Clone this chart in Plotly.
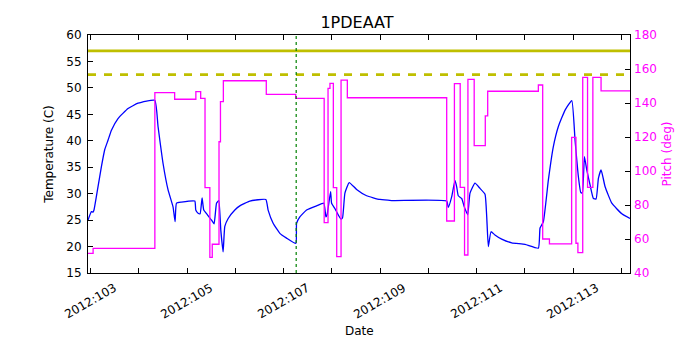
import plotly.graph_objects as go

# ---------------- data ----------------
temp_day = [102.944, 103.015, 103.048, 103.068, 103.151, 103.222, 103.29, 103.359, 103.43, 103.566,
            103.774, 103.981, 104.328, 104.396, 104.50, 104.604, 104.707, 104.749, 104.778, 104.88,
            105.158, 105.178, 105.226, 105.268, 105.309, 105.344, 105.42, 105.505, 105.558, 105.608,
            105.656, 105.697, 105.745, 105.78, 105.85, 105.988, 106.091, 106.299, 106.631, 106.678,
            106.782, 106.921, 107.06, 107.253, 107.268, 107.336, 107.475, 107.683, 107.834, 107.876,
            107.90, 107.973, 107.994, 108.062, 108.131, 108.187, 108.22, 108.27, 108.359, 108.512,
            108.72, 108.996, 109.239, 110.38, 110.413, 110.483, 110.552, 110.587, 110.62, 110.69,
            110.745, 110.815, 110.863, 110.967, 111.07, 111.174, 111.21, 111.243, 111.299, 111.38,
            111.52, 111.728, 112.004, 112.28, 112.315, 112.384, 112.488, 112.591, 112.695, 112.834,
            112.973, 113.041, 113.11, 113.16, 113.193, 113.235, 113.284, 113.353, 113.421, 113.477,
            113.525, 113.581, 113.664, 113.803, 114.01, 114.18]
temp_val = [25.0, 26.6, 26.5, 26.9, 31.3, 35.1, 38.3, 40.1, 42.0, 44.2,
            46.1, 47.1, 47.65, 42.7, 35.7, 30.7, 27.5, 24.7, 28.2, 28.4,
            28.6, 26.9, 26.3, 26.2, 29.2, 26.9, 26.0, 25.0, 24.3, 28.2,
            28.7, 23.1, 19.0, 23.8, 25.3, 26.9, 27.7, 28.6, 28.9, 26.9,
            24.4, 22.5, 21.6, 20.6, 24.4, 25.6, 26.9, 27.7, 28.2, 25.6,
            26.0, 30.4, 28.2, 27.2, 26.0, 25.2, 25.4, 30.1, 32.1, 30.8,
            29.6, 28.9, 28.7, 28.6, 27.4, 29.4, 32.5, 31.3, 29.6, 29.1,
            27.5, 26.0, 30.1, 32.0, 31.0, 29.9, 25.6, 20.0, 22.8, 22.2,
            21.4, 20.7, 20.4, 19.7, 23.5, 24.7, 32.6, 38.9, 42.7, 45.8,
            47.6, 40.1, 33.2, 30.2, 30.2, 37.0, 34.5, 31.6, 29.1, 29.0,
            32.9, 34.5, 31.3, 28.2, 26.2, 25.3]

pitch_day = [102.944, 103.05, 104.33, 104.74, 105.18, 105.28, 105.37, 105.47, 105.52, 105.66,
             105.69, 105.75, 106.64, 107.25, 107.84, 107.92, 107.96, 108.03, 108.10, 108.19,
             108.32, 110.38, 110.54, 110.66, 110.75, 110.82, 110.95, 111.18, 111.23, 112.28,
             112.37, 112.51, 112.97, 113.06, 113.10, 113.20, 113.30, 113.41, 113.58, 114.18]
pitch_val = [51.6, 54.5, 146.1, 142.2, 146.7, 142.7, 90.2, 49.2, 56.9, 117.2,
             140.8, 153.1, 145.1, 142.7, 69.6, 148.6, 151.6, 90.2, 49.6, 153.5,
             143.1, 70.6, 151.4, 90.4, 50.6, 153.9, 114.9, 132.4, 146.9, 150.6,
             60.0, 57.1, 119.8, 57.5, 52.0, 155.1, 90.4, 155.1, 147.1, 147.1]

x_range = [102.944, 114.18]
limit_planning = 52.5
limit_red = 57.0
marker_day = 107.26

major_ticks = [103, 105, 107, 109, 111, 113]
major_labels = ["2012:103", "2012:105", "2012:107", "2012:109", "2012:111", "2012:113"]
minor_ticks = [104, 106, 108, 110, 112, 114]
temp_ticks = [15, 20, 25, 30, 35, 40, 45, 50, 55, 60]
pitch_ticks = [40, 60, 80, 100, 120, 140, 160, 180]

FONT = "DejaVu Sans"
MAG = "#ff00ff"
YEL = "#bfbf00"

fig = go.Figure()
fig.add_trace(go.Scatter(x=temp_day, y=temp_val, mode="lines", line_shape="spline",
                         line=dict(color="#0000ff", width=1.3, smoothing=0.4), yaxis="y"))
fig.add_trace(go.Scatter(x=x_range, y=[limit_red, limit_red], mode="lines",
                         line=dict(color=YEL, width=2.7), yaxis="y"))
fig.add_trace(go.Scatter(x=x_range, y=[limit_planning, limit_planning], mode="lines",
                         line=dict(color=YEL, width=2.7, dash="8px,8px"), yaxis="y"))
fig.add_trace(go.Scatter(x=pitch_day, y=pitch_val, mode="lines", line_shape="hv",
                         line=dict(color=MAG, width=1.3), yaxis="y2"))

fig.add_shape(type="line", xref="x", yref="paper", x0=marker_day, x1=marker_day, y0=0, y1=1,
              line=dict(color="#008000", width=1.2, dash="dot"))

for d, lab in zip(major_ticks, major_labels):
    fig.add_annotation(x=d, xref="x", y=0, yref="paper", text=lab, showarrow=False,
                       textangle=-30, xanchor="center", yanchor="top", yshift=-5,
                       font=dict(family=FONT, size=12, color="black"))
fig.add_annotation(x=0.5, xref="paper", y=0, yref="paper", text="Date", showarrow=False,
                   xanchor="center", yanchor="middle", yshift=-58,
                   font=dict(family=FONT, size=12, color="black"))

fig.update_layout(
    width=700, height=350,
    margin=dict(l=88, r=70, t=35, b=77, autoexpand=False),
    paper_bgcolor="white", plot_bgcolor="white",
    showlegend=False,
    font=dict(family=FONT, size=12, color="black"),
    title=dict(text="1PDEAAT", x=0.51, xanchor="center", y=1 - 22 / 350, yanchor="middle",
               font=dict(family=FONT, size=16, color="black")),
    xaxis=dict(range=x_range, tickmode="array", tickvals=major_ticks, showticklabels=False,
               ticks="inside", ticklen=5, tickcolor="black", showline=True, linecolor="black",
               linewidth=1, mirror="allticks", showgrid=False, zeroline=False, automargin=False,
               minor=dict(tickmode="array", tickvals=minor_ticks, ticks="inside", ticklen=3,
                          tickcolor="black", showgrid=False)),
    yaxis=dict(range=[15, 60], tickmode="array", tickvals=temp_ticks, ticks="inside", ticklen=5,
               tickcolor="black", showline=True, linecolor="black", linewidth=1, mirror=True,
               showgrid=False, zeroline=False, ticklabelstandoff=3, automargin=False,
               title=dict(text="Temperature (C)", standoff=10,
                          font=dict(family=FONT, size=12, color="black"))),
    yaxis2=dict(range=[40, 180], overlaying="y", side="right", tickmode="array", tickvals=pitch_ticks,
                ticks="inside", ticklen=5, tickcolor="black", showline=False, showgrid=False,
                zeroline=False, ticklabelstandoff=3, tickfont=dict(color=MAG), automargin=False,
                title=dict(text="Pitch (deg)", standoff=6, font=dict(family=FONT, size=12, color=MAG))),
)

fig.write_html("out.html", config={"displayModeBar": False},
               post_script="document.body.style.margin='0';document.body.style.overflow='hidden';")
